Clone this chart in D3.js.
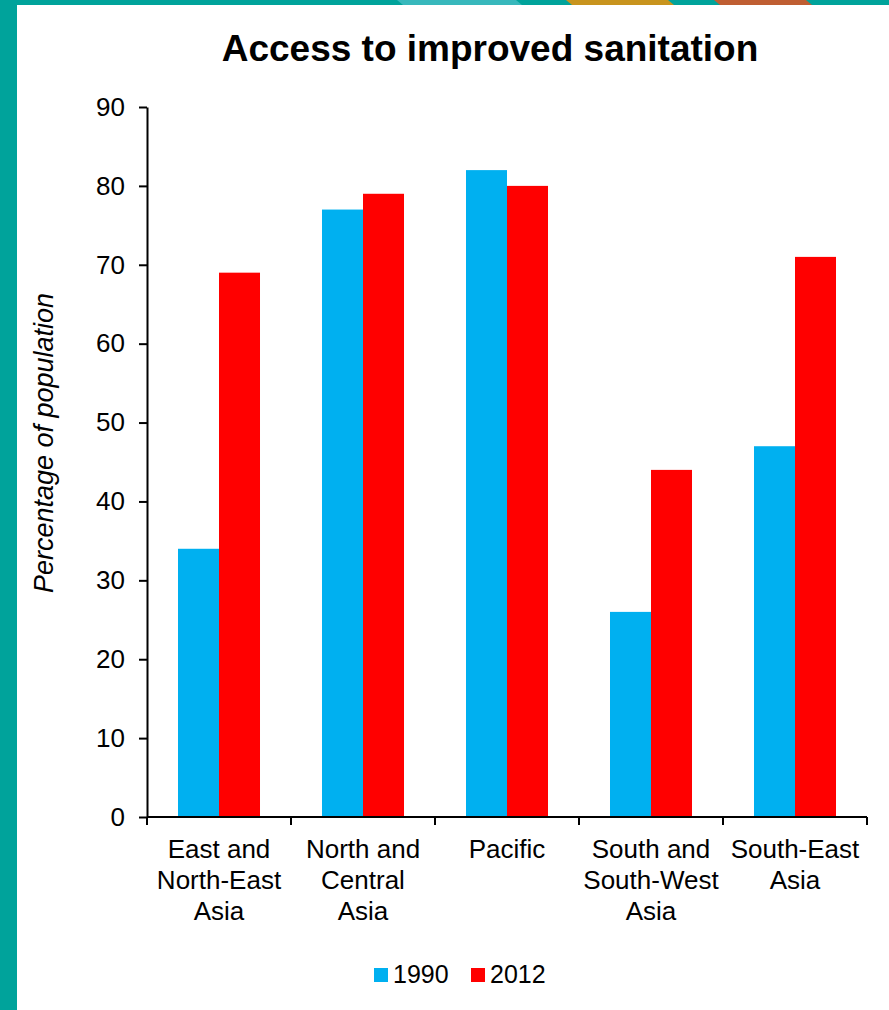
<!DOCTYPE html>
<html>
<head>
<meta charset="utf-8">
<script src="https://cdn.jsdelivr.net/npm/d3@7"></script>
<style>
  html, body { margin: 0; padding: 0; background: #fff; }
  svg { display: block; font-family: Arial, "Liberation Sans", sans-serif; }
</style>
</head>
<body>
<svg id="chart" width="889" height="1010"></svg>
<script>
const categories = ["East and\nNorth-East\nAsia", "North and\nCentral\nAsia", "Pacific", "South and\nSouth-West\nAsia", "South-East\nAsia"];
const seriesNames = ["1990", "2012"];
const values1990 = [34, 77, 82, 26, 47];
const values2012 = [69, 79, 80, 44, 71];
const yTicks = [0, 10, 20, 30, 40, 50, 60, 70, 80, 90];
const seriesColors = ["#00B0F0", "#FF0000"];

const svg = d3.select("#chart");
const W = 889, H = 1010;

// decorative frame
svg.append("rect").attr("x", 0).attr("y", 0).attr("width", W).attr("height", H).attr("fill", "#fff");
svg.append("rect").attr("x", 0).attr("y", 0).attr("width", W).attr("height", 5).attr("fill", "#00A39B");
const stripes = [
  {x0: 397, x1: 522, c: "#38B8BC"},
  {x0: 566, x1: 674, c: "#C8941E"},
  {x0: 714, x1: 812, c: "#BF5E32"}
];
stripes.forEach(s => {
  svg.append("polygon")
    .attr("points", `${s.x0},0 ${s.x1 - 6},0 ${s.x1},5 ${s.x0 + 6},5`)
    .attr("fill", s.c);
});
svg.append("rect").attr("x", 0).attr("y", 0).attr("width", 17).attr("height", H).attr("fill", "#00A39B");

const plot = {left: 147, right: 867, top: 107, bottom: 817};

const x = d3.scaleBand().domain(categories).range([plot.left, plot.right]).paddingInner(0).paddingOuter(0);
const x1 = d3.scaleBand().domain(seriesNames).range([0, x.bandwidth()]).paddingInner(0).paddingOuter(0.756);
const y = d3.scaleLinear().domain([0, 90]).range([plot.bottom, plot.top]);

// bars
const data = categories.map((c, i) => ({cat: c, vals: [values1990[i], values2012[i]]}));
const groups = svg.append("g").selectAll("g").data(data).join("g")
  .attr("transform", d => `translate(${x(d.cat)},0)`);
groups.selectAll("rect").data(d => d.vals.map((v, j) => ({s: seriesNames[j], v, j})))
  .join("rect")
  .attr("x", d => x1(d.s))
  .attr("width", x1.bandwidth())
  .attr("y", d => y(d.v))
  .attr("height", d => y(0) - y(d.v))
  .attr("fill", d => seriesColors[d.j]);

// y axis
const yAxis = svg.append("g").attr("transform", `translate(${plot.left},0)`)
  .call(d3.axisLeft(y).tickValues(yTicks).tickSize(8).tickPadding(14).tickSizeOuter(0));
yAxis.select(".domain").attr("stroke", "#000").attr("stroke-width", 2);
yAxis.selectAll(".tick line").attr("stroke", "#000").attr("stroke-width", 2);
yAxis.selectAll(".tick text").attr("font-size", 26).attr("fill", "#000").attr("font-family", "Arial, 'Liberation Sans', sans-serif");

// x axis
const xAxisG = svg.append("g");
xAxisG.append("line")
  .attr("x1", plot.left).attr("x2", plot.right)
  .attr("y1", y(0)).attr("y2", y(0))
  .attr("stroke", "#000").attr("stroke-width", 2);
const boundaries = categories.map(c => x(c)).concat([x(categories[categories.length - 1]) + x.bandwidth()]);
xAxisG.selectAll("line.tk").data(boundaries).join("line").attr("class", "tk")
  .attr("x1", d => d).attr("x2", d => d)
  .attr("y1", y(0)).attr("y2", y(0) + 8)
  .attr("stroke", "#000").attr("stroke-width", 2);
const labels = xAxisG.selectAll("text.cl").data(categories).join("text").attr("class", "cl")
  .attr("text-anchor", "middle")
  .attr("font-size", 26)
  .attr("fill", "#000");
labels.each(function(c) {
  const t = d3.select(this);
  c.split("\n").forEach((line, i) => {
    t.append("tspan")
      .attr("x", x(c) + x.bandwidth() / 2)
      .attr("y", 858 + i * 31)
      .text(line);
  });
});

// title
svg.append("text")
  .attr("x", 490).attr("y", 61)
  .attr("text-anchor", "middle")
  .attr("font-size", 37).attr("font-weight", "bold")
  .attr("fill", "#000")
  .text("Access to improved sanitation");

// y label
svg.append("text")
  .attr("transform", `translate(53,443) rotate(-90)`)
  .attr("text-anchor", "middle")
  .attr("font-size", 27).attr("font-style", "italic")
  .attr("fill", "#000")
  .text("Percentage of population");

// legend
const legend = svg.append("g");
const legendX = [374, 471];
seriesNames.forEach((s, i) => {
  legend.append("rect").attr("x", legendX[i]).attr("y", 968).attr("width", 14).attr("height", 14).attr("fill", seriesColors[i]);
  legend.append("text").attr("x", legendX[i] + 19).attr("y", 983)
    .attr("font-size", 25).attr("fill", "#000").text(s);
});
</script>
</body>
</html>
